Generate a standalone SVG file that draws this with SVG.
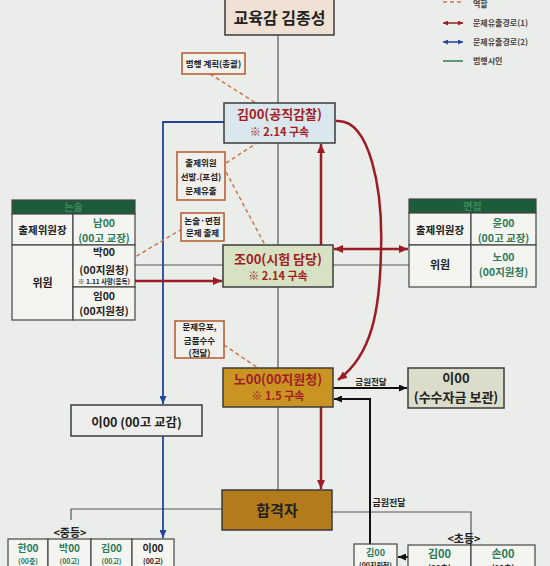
<svg xmlns="http://www.w3.org/2000/svg" width="550" height="566" viewBox="0 0 550 566">
<defs>
<marker id="ar" markerWidth="9" markerHeight="8" refX="9" refY="4" orient="auto-start-reverse" markerUnits="userSpaceOnUse"><path d="M0,0 L9,4 L0,8 z" fill="#9b1c24"/></marker>
<marker id="ab" markerWidth="8" markerHeight="7" refX="8" refY="3.5" orient="auto-start-reverse" markerUnits="userSpaceOnUse"><path d="M0,0 L8,3.5 L0,7 z" fill="#23449a"/></marker>
<marker id="ak" markerWidth="8" markerHeight="7" refX="8" refY="3.5" orient="auto-start-reverse" markerUnits="userSpaceOnUse"><path d="M0,0 L8,3.5 L0,7 z" fill="#111"/></marker>
<marker id="lr" markerWidth="5" markerHeight="5" refX="5" refY="2.5" orient="auto-start-reverse" markerUnits="userSpaceOnUse"><path d="M0,0 L5,2.5 L0,5 z" fill="#9b1c24"/></marker>
<marker id="lb" markerWidth="5" markerHeight="5" refX="5" refY="2.5" orient="auto-start-reverse" markerUnits="userSpaceOnUse"><path d="M0,0 L5,2.5 L0,5 z" fill="#23449a"/></marker>
</defs>
<style>
.t{font-family:"Noto Sans CJK KR","Noto Sans",sans-serif;font-weight:bold;text-anchor:middle;fill:#222}
.n{stroke:#3b3b3b;stroke-width:1.5}
.a{fill:#f1f0ec;stroke:#b5582d;stroke-width:1.5}
.c{fill:#f4f4f1;stroke:#444;stroke-width:1.2}
.r{fill:#a11d22}
.g{fill:#2b7a58}
.gray{stroke:#555;stroke-width:1.2;fill:none}
.red{stroke:#9b1c24;stroke-width:2.5;fill:none}
.blue{stroke:#23449a;stroke-width:1.8;fill:none}
.blk{stroke:#111;stroke-width:2;fill:none}
.dash{stroke:#c87a4a;stroke-width:1.5;stroke-dasharray:4 3;fill:none}
.lg{text-anchor:start;font-size:8px;fill:#444}
</style>
<rect width="550" height="566" fill="#ebedeb"/>

<g id="legend">
<line x1="443" y1="2" x2="463" y2="2" class="dash"/>
<text x="473" y="7" class="t lg">역할</text>
<line x1="443" y1="23" x2="463" y2="23" stroke="#9b1c24" stroke-width="1.5" marker-start="url(#lr)" marker-end="url(#lr)"/>
<text x="473" y="26" class="t lg">문제유출경로(1)</text>
<line x1="443" y1="42" x2="463" y2="42" stroke="#23449a" stroke-width="1.5" marker-start="url(#lb)" marker-end="url(#lb)"/>
<text x="473" y="45" class="t lg">문제유출경로(2)</text>
<line x1="443" y1="61" x2="463" y2="61" stroke="#2f7a4a" stroke-width="1.5"/>
<text x="473" y="64" class="t lg">범행시인</text>
</g>

<g id="connectors">
<path d="M278 35 V490" class="gray"/>
<path d="M135 265 H223 M333 265 H409" class="gray"/>
<path d="M222 509 H71 V520" class="gray"/>
<path d="M332 512 H471 V545" class="gray"/>
<path d="M224 122 H163 V404" class="blue" marker-end="url(#ab)"/>
<path d="M163 436 V538" class="blue" marker-end="url(#ab)"/>
<path d="M135 281 H222" class="red" marker-end="url(#ar)"/>
<path d="M334 249 H408" class="red" marker-start="url(#ar)" marker-end="url(#ar)"/>
<path d="M321 245 V144" class="red" marker-end="url(#ar)"/>
<path d="M336 121 C370 118 383 190 381 250 C380 310 372 355 338 380" class="red" marker-end="url(#ar)"/>
<path d="M321 407 V489" class="red" marker-end="url(#ar)"/>
<path d="M333 388 H407" class="blk" marker-end="url(#ak)"/>
<path d="M370 544 V399 H334" class="blk" marker-end="url(#ak)"/>
<path d="M408 557 H398" class="blk" marker-end="url(#ak)"/>
<path d="M210 74 L256 103" class="dash"/>
<path d="M226 163 L257 143" class="dash"/>
<path d="M226 172 L265 245" class="dash"/>
<path d="M182 229 L135 257" class="dash"/>
<path d="M224 345 L258 368" class="dash"/>
<text x="371" y="385" class="t" style="font-size:8.5px">금원전달</text>
<text x="389" y="506" class="t" style="font-size:9px">금원전달</text>
</g>

<g id="title">
<rect x="225" y="-2" width="109" height="37" fill="#efe2d4" class="n"/>
<text x="279.5" y="24" class="t" style="font-size:16px">교육감 김종성</text>
</g>

<g id="note-plan">
<rect x="182" y="53" width="63" height="21" class="a"/>
<text x="213.5" y="67" class="t" style="font-size:8.5px">범행 계획(총괄)</text>
</g>

<g id="kim">
<rect x="224" y="103" width="111" height="40" fill="#dbe7ee" class="n"/>
<text x="279.5" y="119" class="t r" style="font-size:13px">김00(공직감찰)</text>
<text x="279.5" y="136" class="t r" style="font-size:11px">※ 2.14 구속</text>
</g>

<g id="note-select">
<rect x="177" y="152" width="48" height="48" class="a"/>
<text x="201" y="166" class="t" style="font-size:8.5px">출제위원</text>
<text x="201" y="180" class="t" style="font-size:8.5px">선발.(포섭)</text>
<text x="201" y="194" class="t" style="font-size:8.5px">문제유출</text>
</g>

<g id="note-exam">
<rect x="181" y="213" width="43" height="28" class="a"/>
<text x="202.5" y="224" class="t" style="font-size:8.5px">논술·면접</text>
<text x="202.5" y="236" class="t" style="font-size:8.5px">문제 출제</text>
</g>

<g id="jo">
<rect x="223" y="245" width="110" height="42" fill="#d6e2c3" class="n"/>
<text x="278" y="264" class="t r" style="font-size:13px">조00(시험 담당)</text>
<text x="278" y="280" class="t r" style="font-size:11px">※ 2.14 구속</text>
</g>

<g id="table-essay">
<rect x="12" y="200" width="123" height="14" fill="#1d5c3b" stroke="#444" stroke-width="1.2"/>
<text x="73.5" y="211" class="t" style="font-size:10px;fill:#3e8a5c">논술</text>
<rect x="12" y="214" width="61" height="31" class="c"/>
<rect x="73" y="214" width="62" height="31" class="c"/>
<rect x="12" y="245" width="61" height="75" class="c"/>
<rect x="73" y="245" width="62" height="42" class="c"/>
<rect x="73" y="287" width="62" height="33" class="c"/>
<text x="42.5" y="234" class="t" style="font-size:10.5px">출제위원장</text>
<text x="104" y="227" class="t g" style="font-size:10.5px">남00</text>
<text x="104" y="241.5" class="t g" style="font-size:10.5px">(00고 교장)</text>
<text x="42.5" y="287" class="t" style="font-size:11px">위원</text>
<text x="104" y="256" class="t" style="font-size:10.5px">박00</text>
<text x="104" y="273.5" class="t" style="font-size:10.5px">(00지원청)</text>
<text x="104" y="284" class="t" style="font-size:6.5px">※ 1.11 사망(음독)</text>
<text x="104" y="300" class="t" style="font-size:10.5px">임00</text>
<text x="104" y="315" class="t" style="font-size:10.5px">(00지원청)</text>
</g>

<g id="table-interview">
<rect x="409" y="199" width="127" height="14" fill="#1d5c3b" stroke="#444" stroke-width="1.2"/>
<text x="472.5" y="210" class="t" style="font-size:10px;fill:#3e8a5c">면접</text>
<rect x="409" y="213" width="62" height="32" class="c"/>
<rect x="471" y="213" width="65" height="32" class="c"/>
<rect x="409" y="245" width="62" height="42" class="c"/>
<rect x="471" y="245" width="65" height="42" class="c"/>
<text x="440" y="234" class="t" style="font-size:10.5px">출제위원장</text>
<text x="503.5" y="227" class="t g" style="font-size:10.5px">윤00</text>
<text x="503.5" y="241.5" class="t g" style="font-size:10.5px">(00고 교장)</text>
<text x="440" y="269" class="t" style="font-size:11px">위원</text>
<text x="503.5" y="261" class="t g" style="font-size:10.5px">노00</text>
<text x="503.5" y="276" class="t g" style="font-size:10.5px">(00지원청)</text>
</g>

<g id="note-leak">
<rect x="175" y="321" width="49" height="37" class="a"/>
<text x="199.5" y="330" class="t" style="font-size:8.5px">문제유포,</text>
<text x="199.5" y="344" class="t" style="font-size:8.5px">금품수수</text>
<text x="199.5" y="356" class="t" style="font-size:8.5px">(전달)</text>
</g>

<g id="no">
<rect x="223" y="368" width="110" height="39" fill="#c99421" class="n"/>
<text x="278" y="384" class="t r" style="font-size:13px">노00(00지원청)</text>
<text x="278" y="399.5" class="t r" style="font-size:11px">※ 1.5 구속</text>
</g>

<g id="lee-fund">
<rect x="408" y="368" width="96" height="40" fill="#dcdccb" class="n"/>
<text x="456" y="383" class="t" style="font-size:13px">이00</text>
<text x="456" y="402" class="t" style="font-size:13px">(수수자금 보관)</text>
</g>

<g id="lee-vp">
<rect x="71" y="405" width="131" height="31" fill="#eeeeec" class="n"/>
<text x="136.5" y="427" class="t" style="font-size:12.5px">이00 (00고 교감)</text>
</g>

<g id="passed">
<rect x="222" y="490" width="110" height="40" fill="#b47b1c" class="n"/>
<text x="277" y="516" class="t" style="font-size:15px">합격자</text>
</g>

<g id="middle">
<text x="70" y="537" class="t" style="font-size:11px">&lt;중등&gt;</text>
<rect x="8" y="539" width="40" height="32" class="c"/>
<rect x="48" y="539" width="43" height="32" class="c"/>
<rect x="91" y="539" width="41" height="32" class="c"/>
<rect x="132" y="539" width="42" height="32" class="c"/>
<text x="28" y="552" class="t g" style="font-size:10px">한00</text>
<text x="69.5" y="552" class="t g" style="font-size:10px">박00</text>
<text x="111.5" y="552" class="t g" style="font-size:10px">김00</text>
<text x="153" y="552" class="t" style="font-size:10px">이00</text>
<text x="28" y="564" class="t g" style="font-size:7px">(00중)</text>
<text x="69.5" y="564" class="t g" style="font-size:7px">(00고)</text>
<text x="111.5" y="564" class="t g" style="font-size:7px">(00고)</text>
<text x="153" y="564" class="t" style="font-size:7px">(00고)</text>
</g>

<g id="kim-office">
<rect x="354" y="544" width="43" height="30" class="c"/>
<text x="375.5" y="556" class="t g" style="font-size:9px">김00</text>
<text x="375.5" y="568" class="t" style="font-size:7px">(00지원청)</text>
</g>

<g id="elementary">
<text x="464" y="543" class="t" style="font-size:11px">&lt;초등&gt;</text>
<rect x="408" y="545" width="63" height="30" class="c"/>
<rect x="471" y="545" width="64" height="30" class="c"/>
<text x="439.5" y="558" class="t g" style="font-size:11px">김00</text>
<text x="503" y="558" class="t g" style="font-size:11px">손00</text>
<text x="439.5" y="571" class="t" style="font-size:8px">(00초)</text>
<text x="503" y="571" class="t" style="font-size:8px">(00초)</text>
</g>
</svg>
